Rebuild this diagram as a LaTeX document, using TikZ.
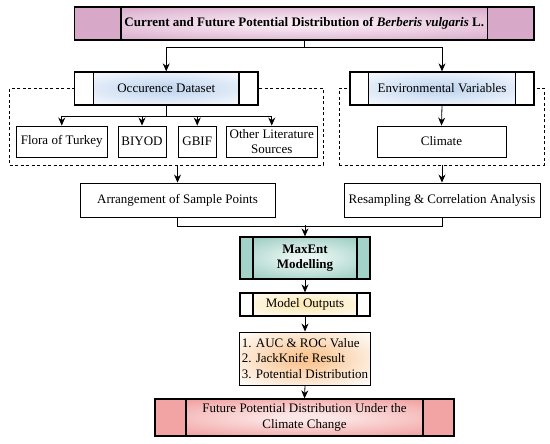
\documentclass[tikz,border=0pt]{standalone}
\usepackage{fontspec}
\setmainfont{Liberation Serif}
\usetikzlibrary{arrows.meta}

\definecolor{titleside}{HTML}{D8A8C8}
\definecolor{titlemid}{HTML}{F8E8F3}
\definecolor{titleedge}{HTML}{D4A2C4}
\definecolor{blueglow}{HTML}{C6D9F1}
\definecolor{tealside}{HTML}{A3D2C8}
\definecolor{tealmid}{HTML}{E8F5F2}
\definecolor{tealedge}{HTML}{8FC6BA}
\definecolor{yellowglow}{HTML}{FCEAB8}
\definecolor{orangeglow}{HTML}{F9C796}
\definecolor{redside}{HTML}{F2A4A4}
\definecolor{redmid}{HTML}{FDE6E6}
\definecolor{rededge}{HTML}{EE9494}

\colorlet{glowin}{white}
\colorlet{glowout}{white}
\pgfdeclareradialshading[glowin,glowout]{glow}{\pgfpoint{0bp}{0bp}}
  {color(0bp)=(glowin); color(5bp)=(glowin); color(36bp)=(glowout); color(50bp)=(glowout)}

\tikzset{
  plainbox/.style={draw, line width=0.9pt, align=center, inner sep=2pt, fill=white,
    font=\fontsize{13}{15.5}\selectfont},
  dashgroup/.style={draw, dash pattern=on 3pt off 2.5pt, line width=0.8pt},
  glowbox/.style 2 args={plainbox,
    path picture={
      \colorlet{glowin}{#1}\colorlet{glowout}{#2}
      \shade[shading=glow] (path picture bounding box.south west) rectangle
        (path picture bounding box.north east);
    }},
  tribox/.style n args={4}{plainbox, line width=1.3pt, fill=#2,
    path picture={
      \colorlet{glowin}{#3}\colorlet{glowout}{#4}
      \shade[shading=glow]
        ([xshift=#1]path picture bounding box.south west) rectangle
        ([xshift=-#1]path picture bounding box.north east);
      \draw[line width=1.3pt] ([xshift=#1]path picture bounding box.south west) --
        ([xshift=#1]path picture bounding box.north west);
      \draw[line width=1.3pt] ([xshift=-#1]path picture bounding box.south east) --
        ([xshift=-#1]path picture bounding box.north east);
    }},
  arr/.style={-{Stealth[length=8pt,width=7pt]}, line width=0.8pt},
}

\begin{document}
\begin{tikzpicture}[x=1pt, y=-1pt]
  \useasboundingbox (0,0) rectangle (550,444);

  % dashed groups behind the dataset boxes
  \node[dashgroup, minimum width=313.5, minimum height=76.5] (leftgrp) at (166.25,126.75) {};
  \node[dashgroup, minimum width=205, minimum height=76.5] (rightgrp) at (441.5,126.75) {};

  \node[tribox={46.5pt}{titleside}{titlemid}{titleedge}, minimum width=459.5, minimum height=33] (title) at (304.25,23.5)
    {\textbf{Current and Future Potential Distribution of \textit{Berberis vulgaris} L.}};

  \node[tribox={19pt}{white}{blueglow}{white}, minimum width=183.5, minimum height=33] (occ) at (166.25,88.5) {Occurence Dataset};
  \node[tribox={18.5pt}{white}{blueglow}{white}, minimum width=184, minimum height=33] (env) at (442,88.5) {Environmental Variables};

  \node[plainbox, minimum width=91.5, minimum height=31] (flora) at (61.75,141.5) {Flora of Turkey};
  \node[plainbox, minimum width=48, minimum height=31] (biyod) at (142,141.5) {BIYOD};
  \node[plainbox, minimum width=37.5, minimum height=31] (gbif) at (197.25,141.5) {GBIF};
  \node[plainbox, minimum width=91.5, minimum height=31] (other) at (271.75,141.5) {Other Literature\\Sources};
  \node[plainbox, minimum width=129, minimum height=31] (climate) at (441.5,141.5) {Climate};

  \node[plainbox, minimum width=195, minimum height=34] (arrange) at (177.5,200) {Arrangement of Sample Points};
  \node[plainbox, minimum width=196, minimum height=34] (resamp) at (442,200) {Resampling \& Correlation Analysis};

  \node[tribox={13pt}{tealside}{tealmid}{tealedge}, minimum width=130, minimum height=42] (maxent) at (305,258) {\textbf{MaxEnt}\\\textbf{Modelling}};
  \node[tribox={13pt}{white}{yellowglow}{white}, minimum width=130, minimum height=23] (outputs) at (305,304.5) {Model Outputs};
  \node[glowbox={orangeglow}{white}, align=left, minimum width=130, minimum height=53] (results) at (305,358.5)
    {1. AUC \& ROC Value\\2. JackKnife Result\\3. Potential Distribution};
  \node[tribox={31pt}{redside}{redmid}{rededge}, minimum width=299, minimum height=37] (final) at (304.5,417.5)
    {Future Potential Distribution Under the\\Climate Change};

  \draw[arr] (title.south) -- ++(0,7) -| (occ.north);
  \draw[arr] (title.south) -- ++(0,7) -| (env.north);
  \foreach \n in {flora,biyod,gbif,other}
    \draw[arr] (occ.south) -- ++(0,10.5) -| (\n.north);
  \draw[arr] (env.south) -- (climate.north);

  \draw[arr] (leftgrp.south -| arrange.north) -- (arrange.north);
  \draw[arr] (rightgrp.south -| resamp.north) -- (resamp.north);
  \draw[line width=0.8pt] (arrange.south) -- ++(0,9) -| (resamp.south);
  \draw[arr] (maxent.north) ++(0,-11) -- (maxent.north);
  \draw[arr] (maxent.south) -- (outputs.north);
  \draw[arr] (outputs.south) -- (results.north);
  \draw[arr] (results.south) -- (final.north);
\end{tikzpicture}
\end{document}
